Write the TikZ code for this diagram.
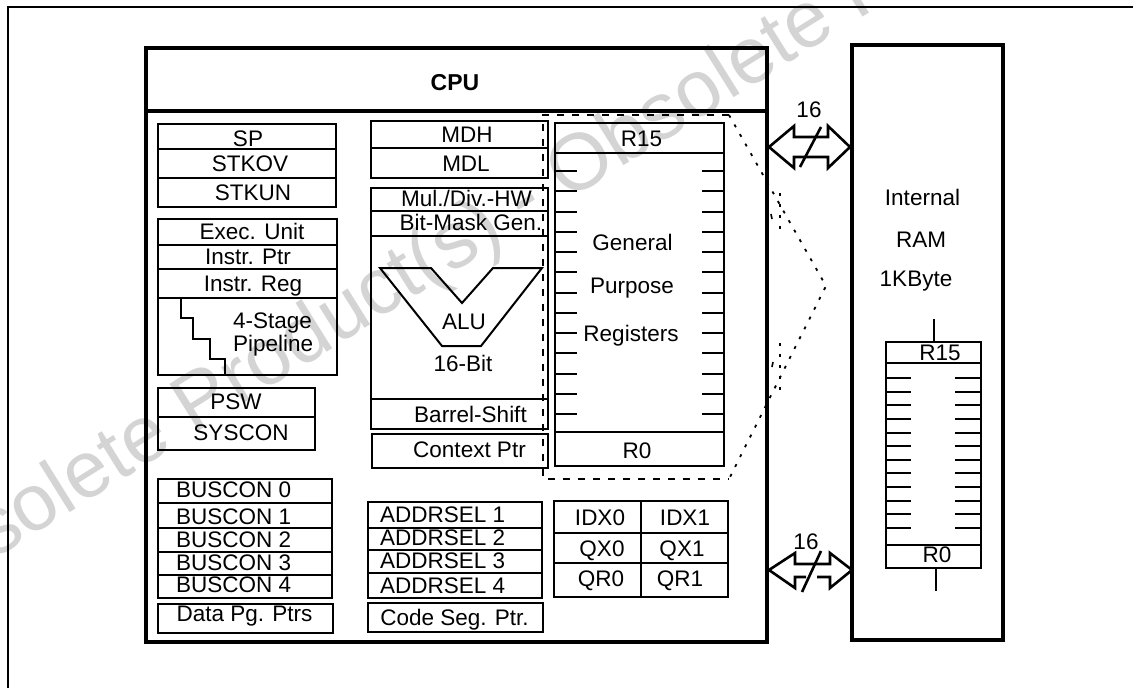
\documentclass[tikz,border=0pt]{standalone}
\usepackage{fontspec}
\setmainfont{Liberation Sans}
\usetikzlibrary{fit}
\tikzset{
  box/.style={draw, line width=2pt, inner sep=0pt},
  heavybox/.style={draw, line width=3.6pt, inner sep=0pt},
  lbl/.style={font=\fontsize{22.5}{27}\selectfont, inner sep=0pt, anchor=base},
  lblw/.style={lbl, anchor=base west},
  tick/.style={line width=2pt},
  regdash/.style={line width=2pt, dash pattern=on 7pt off 8pt},
  fan/.style={line width=1.8pt, dash pattern=on 3pt off 8pt},
  bus/.style={line width=2.6pt, line join=miter},
  watermark/.style={text=black!17, font=\fontsize{80}{90}\selectfont, inner sep=0pt}
}
\newcommand\rbox[6][box]{\path (#3,#4) coordinate (#2-a) (#5,#6) coordinate (#2-b);
  \node[#1, fit=(#2-a)(#2-b)] (#2) {};}
\begin{document}
\begin{tikzpicture}[x=1pt,y=-1pt]
\clip (0,0) rectangle (1133,688);
\fill[white] (0,0) rectangle (1133,688);
% watermark
\node[watermark, rotate=32] (wm) at (526,203) {Obsolete Product(s) - Obsolete Product(s)};
% outer frame
\draw[line width=1.5pt] (8,700) -- (8,7) -- (1140,7);
% CPU
\rbox[heavybox]{cpu}{146}{48}{767}{642}
\rbox[heavybox]{cpuhead}{146}{48}{767}{111}
\node[lbl, font=\fontsize{23}{27}\selectfont\bfseries] (tcpu) at (455,90) {CPU};
% left column
\rbox{sp}{158}{124}{336}{149}
\rbox{stkov}{158}{149}{336}{178}
\rbox{stkun}{158}{178}{336}{207}
\rbox{exec}{158}{219}{337}{245}
\rbox{iptr}{158}{245}{337}{269}
\rbox{ireg}{158}{269}{337}{298}
\rbox{pipe}{158}{298}{337}{375}
\rbox{psw}{158}{388}{315}{417}
\rbox{syscon}{158}{417}{315}{450}
\rbox{bus0}{158}{479}{332}{503}
\rbox{bus1}{158}{503}{332}{528}
\rbox{bus2}{158}{528}{332}{552}
\rbox{bus3}{158}{552}{332}{575}
\rbox{bus4}{158}{575}{332}{598}
\rbox{dpp}{158}{604}{333}{633}
\draw[line width=2pt] (181,298) -- (181,318) -- (193,318) -- (193,339) -- (210,339) -- (210,359) -- (225,359) -- (225,376);
\node[lbl] (tsp) at (248,146) {SP};
\node[lbl] (tstkov) at (250,171.5) {STKOV};
\node[lbl] (tstkun) at (253,200) {STKUN};
\node[lbl] (texec) at (252,239) {Exec. Unit};
\node[lbl] (tiptr) at (248,264) {Instr. Ptr};
\node[lbl] (tireg) at (253,291.5) {Instr. Reg};
\node[lblw] (tstage) at (233,328) {4-Stage};
\node[lblw] (tpipe) at (233,351.5) {Pipeline};
\node[lbl] (tpsw) at (236,409) {PSW};
\node[lbl] (tsyscon) at (241,440) {SYSCON};
\node[lblw] (tbus0) at (176,497) {BUSCON 0};
\node[lblw] (tbus1) at (176,524) {BUSCON 1};
\node[lblw] (tbus2) at (176,547) {BUSCON 2};
\node[lblw] (tbus3) at (176,570.5) {BUSCON 3};
\node[lblw] (tbus4) at (176,592.5) {BUSCON 4};
\node[lbl] (tdpp) at (244.5,621.5) {Data Pg. Ptrs};
% middle column
\rbox{mdh}{371}{121}{548}{148}
\rbox{mdl}{371}{148}{548}{178}
\rbox{mul}{371}{188}{548}{211}
\rbox{bmg}{371}{211}{548}{236}
\rbox{alu}{371}{236}{548}{399}
\rbox{bsh}{371}{399}{548}{429}
\rbox{cp}{372}{434}{548}{468}
\rbox{as1}{368}{502}{542}{528}
\rbox{as2}{368}{528}{542}{550}
\rbox{as3}{368}{550}{542}{573}
\rbox{as4}{368}{573}{542}{598}
\rbox{csp}{368}{603}{543}{632}
\draw[line width=2pt, line join=miter] (380,268) -- (431,268) -- (462,303) -- (493,268) -- (542,268) -- (481,346) -- (442,346) -- cycle;
\node[lbl] (tmdh) at (467,142) {MDH};
\node[lbl] (tmdl) at (466,171) {MDL};
\node[lbl] (tmul) at (466.5,206.5) {Mul./Div.-HW};
\node[lbl] (tbmg) at (471,230) {Bit-Mask Gen.};
\node[lbl] (talu) at (464,329) {ALU};
\node[lbl] (t16bit) at (463,371.5) {16-Bit};
\node[lbl] (tbsh) at (470.5,422.5) {Barrel-Shift};
\node[lbl] (tcp) at (469.5,457) {Context Ptr};
\node[lblw] (tas1) at (380,522) {ADDRSEL 1};
\node[lblw] (tas2) at (380,545) {ADDRSEL 2};
\node[lblw] (tas3) at (380,568) {ADDRSEL 3};
\node[lblw] (tas4) at (380,593) {ADDRSEL 4};
\node[lbl] (tcsp) at (454.5,625) {Code Seg. Ptr.};
% general purpose registers
\rbox{r15}{555}{123}{724}{153}
\rbox{gpr}{555}{153}{724}{432}
\rbox{r0}{555}{432}{724}{466}
\foreach \i in {0,...,12}{
  \draw[tick] (555,171+20.25*\i) -- ++(22,0);
  \draw[tick] (724,171+20.25*\i) -- ++(-22,0);
}
\node[lbl] (tr15) at (641.5,146.5) {R15};
\node[lbl] (tgen) at (632.5,250) {General};
\node[lbl] (tpur) at (632,293) {Purpose};
\node[lbl] (treg) at (631,341) {Registers};
\node[lbl] (tr0) at (637,458) {R0};
% dashed register frame and fan to RAM
\coordinate (dnw) at (543,115);
\coordinate (dne) at (729,115);
\coordinate (dse) at (729,479);
\coordinate (dsw) at (543,479);
\coordinate (fanpt) at (826,286);
\draw[regdash] (dne) -- (dnw) -- (dsw) -- (dse);
\draw[fan] (dne) -- (fanpt) -- (dse);
\draw[fan] (780,193) -- (780,236);
\draw[fan] (780,343) -- (780,390);
\draw[line width=1.6pt] (771,214) -- (772,219);
\draw[line width=1.6pt] (773,362) -- (772,367);
% index registers
\rbox{idx0}{554}{501}{641}{533}
\rbox{idx1}{641}{501}{728}{533}
\rbox{qx0}{554}{533}{641}{563}
\rbox{qx1}{641}{533}{728}{563}
\rbox{qr0}{554}{563}{641}{597}
\rbox{qr1}{641}{563}{728}{597}
\node[lbl] (tidx0) at (600,525) {IDX0};
\node[lbl] (tidx1) at (685,525) {IDX1};
\node[lbl] (tqx0) at (602,556.5) {QX0};
\node[lbl] (tqx1) at (682,556.5) {QX1};
\node[lbl] (tqr0) at (601,586) {QR0};
\node[lbl] (tqr1) at (680,586) {QR1};
% internal RAM
\rbox[heavybox]{ram}{852}{45}{1003}{640}
\node[lbl] (tint) at (922.5,205) {Internal};
\node[lbl] (tram) at (921,247) {RAM};
\node[lbl] (tkb) at (916,286.5) {1KByte};
\rbox{rr15}{886}{342}{981}{363}
\rbox{rregs}{886}{363}{981}{545}
\rbox{rr0}{886}{545}{981}{568}
\draw[tick] (rr15.north) -- ++(0,-22);
\draw[tick] (rr0.south) ++(2,0) -- ++(0,22);
\foreach \i in {0,...,11}{
  \draw[tick] (886,378+13.64*\i) -- ++(25,0);
  \draw[tick] (981,378+13.64*\i) -- ++(-26,0);
}
\node[lbl] (trr15) at (940,360) {R15};
\node[lbl] (trr0) at (937,562) {R0};
% buses
\coordinate (b1l) at (769,147);
\coordinate (b1r) at (850,147);
\draw[bus] (b1l) -- (794,126) -- (794,137) -- (828,137) -- (828,126) -- (b1r)
  -- (828,168) -- (828,157) -- (794,157) -- (794,168) -- cycle;
\draw[line width=2.6pt] (800,167) -- (821,127);
\node[lbl] (t16a) at (809,117) {16};
\coordinate (b2l) at (769,570);
\coordinate (b2r) at (852,570);
\draw[bus] (806,577) -- (795,577) -- (795,588) -- (b2l) -- (795,553) -- (795,564)
  -- (830,564) -- (830,553) -- (b2r) -- (830,588) -- (830,577) -- (817,577);
\draw[line width=2.6pt] (802,592) -- (821,551);
\node[lbl] (t16b) at (806,549) {16};
\end{tikzpicture}
\end{document}
